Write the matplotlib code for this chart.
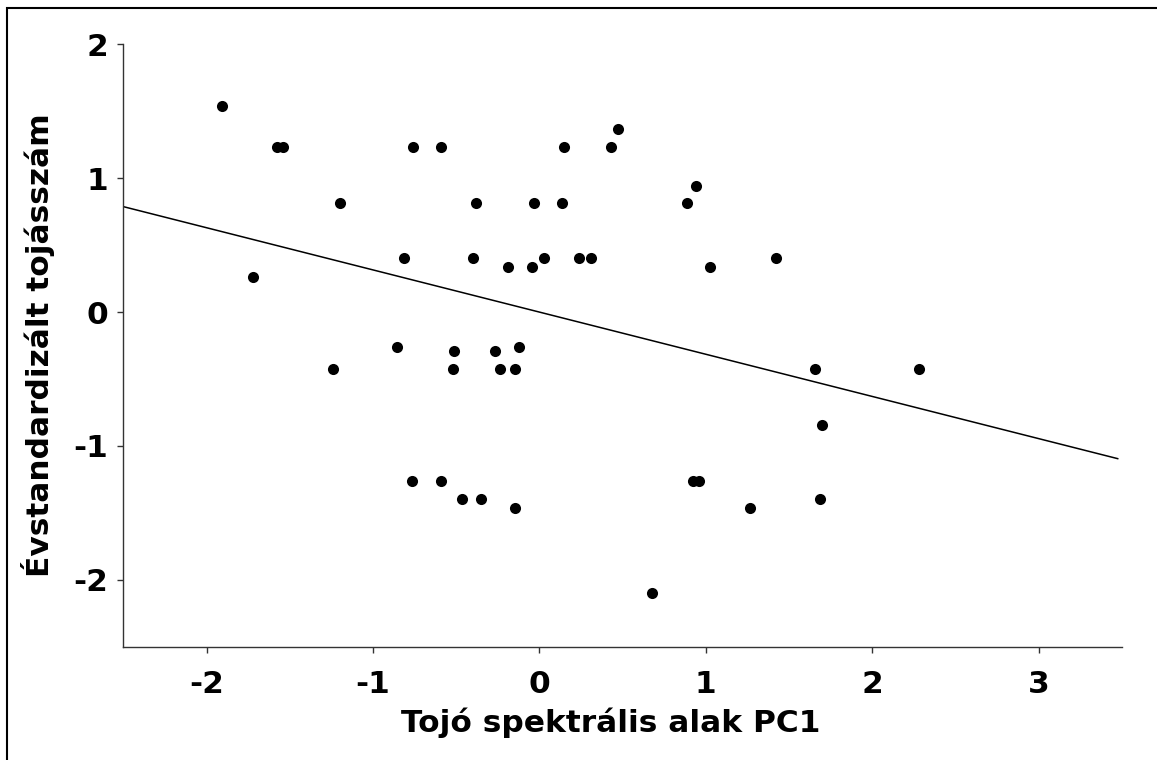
import matplotlib
matplotlib.use("Agg")
import matplotlib.pyplot as plt
from matplotlib.patches import Rectangle
import numpy as np

plt.rcParams['font.family'] = ['DejaVu Sans']

pc1 = [-1.907, -1.578, -1.538, -0.761, -0.589, 0.147, 0.429, 0.471,
       -1.197, -0.378, -0.034, 0.138, 0.889, 0.941,
       -0.811, -0.398, -0.190, -0.042, 0.028, 0.238, 0.313, 1.024, 1.424,
       -1.722,
       -0.857, -0.514, -0.264, -0.124,
       -1.241, -0.517, -0.236, -0.146, 1.654, 2.279,
       1.700,
       -0.763, -0.589, -0.466, -0.350, -0.144, 0.925, 0.961, 1.268, 1.684,
       0.679]
eggs = [1.537, 1.236, 1.236, 1.236, 1.236, 1.236, 1.236, 1.367,
        0.813, 0.813, 0.813, 0.813, 0.813, 0.940,
        0.405, 0.405, 0.340, 0.340, 0.405, 0.405, 0.405, 0.340, 0.405,
        0.263,
        -0.259, -0.289, -0.289, -0.259,
        -0.425, -0.425, -0.425, -0.425, -0.428, -0.425,
        -0.845,
        -1.261, -1.261, -1.398, -1.398, -1.460, -1.261, -1.261, -1.460, -1.398,
        -2.095]

fit_slope = -0.315
fit_intercept = 0.0
fit_x = [-2.5, 3.476]

x_ticks = [-2, -1, 0, 1, 2, 3]
y_ticks = [-2, -1, 0, 1, 2]

FS = 22.5

fig = plt.figure(figsize=(11.57, 7.6), dpi=100)
ax = fig.add_axes([0.1066, 0.149, 0.8629, 0.7927])

ax.plot(pc1, eggs, 'o', color='black', markersize=8, markeredgewidth=0, zorder=3)
fx = np.array(fit_x)
ax.plot(fx, fit_intercept + fit_slope * fx, color='black', linewidth=1.1, zorder=2)

ax.set_xlim(-2.5, 3.5)
ax.set_ylim(-2.5, 2.0)
ax.set_xticks(x_ticks)
ax.set_yticks(y_ticks)
ax.set_xticklabels([str(t) for t in x_ticks])
ax.set_yticklabels([str(t) for t in y_ticks])

for s in ['top', 'right']:
    ax.spines[s].set_visible(False)
for s in ['left', 'bottom']:
    ax.spines[s].set_color('#333333')
    ax.spines[s].set_linewidth(1.0)

ax.tick_params(axis='x', direction='out', length=4, width=1, color='#333333',
               labelsize=FS, pad=13)
ax.tick_params(axis='y', direction='out', length=4, width=1, color='#333333',
               labelsize=FS, pad=7)
for lab in ax.get_xticklabels() + ax.get_yticklabels():
    lab.set_fontweight('bold')

ax.set_xlabel('Tojó spektrális alak PC1', fontsize=FS, fontweight='bold')
ax.xaxis.set_label_coords(0.488, -0.100)
ax.set_ylabel('Évstandardizált tojásszám', fontsize=FS, fontweight='bold', labelpad=13)

# outer frame (only top and left edges visible in image)
fig.patches.append(Rectangle((7.3 / 1157, -0.1), 1.2, 1.1 - 8.3 / 760,
                             transform=fig.transFigure, fill=False,
                             edgecolor='black', linewidth=1.5, zorder=10))

fig.savefig('out.png', dpi=100, facecolor='white')
